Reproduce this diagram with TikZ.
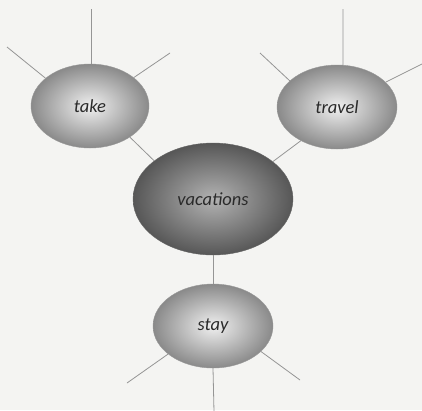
\documentclass[tikz,border=0pt]{standalone}
\usepackage{fontspec}
\setmainfont{Carlito}
\usetikzlibrary{shapes.geometric}
\definecolor{bgcol}{HTML}{F4F4F2}
\definecolor{linecol}{HTML}{959595}
\definecolor{textcol}{HTML}{2A2A2A}
\tikzset{
  bubble/.style={ellipse, inner sep=0pt, draw=black!40, line width=0.4pt,
    shading=radial, inner color=black!6, outer color=black!46,
    font=\fontsize{18.5}{20}\selectfont\itshape, text=textcol},
  bigbubble/.style={bubble, inner color=black!30, outer color=black!66, draw=black!60},
  spoke/.style={draw=linecol, line width=0.8pt}
}
\begin{document}
\begin{tikzpicture}[x=1pt,y=-1pt]
\fill[bgcol] (0,0) rectangle (422,410);
\useasboundingbox (0,0) rectangle (422,410);
% nodes
\node[bubble, minimum width=118pt, minimum height=84pt] (take) at (90,106) {take};
\node[bubble, minimum width=120pt, minimum height=84pt] (travel) at (337,107) {travel};
\node[bigbubble, minimum width=160pt, minimum height=112pt] (vac) at (213,199) {vacations};
\node[bubble, minimum width=120pt, minimum height=84pt] (stay) at (213,326) {stay};
% free ends
\coordinate (tk1) at (7,47);
\coordinate (tk2) at (91,9);
\coordinate (tk3) at (170,53);
\coordinate (tr1) at (260,53);
\coordinate (tr2) at (343,9);
\coordinate (tr3) at (424,63);
\coordinate (st1) at (127,383);
\coordinate (st2) at (214,412);
\coordinate (st3) at (300,380);
% connectors
\draw[spoke] (take.148) -- (tk1);
\draw[spoke] (take.north) ++(1,0) -- (tk2);
\draw[spoke] (take.33) -- (tk3);
\draw[spoke] (travel.151) -- (tr1);
\draw[spoke] (travel.82) -- (tr2);
\draw[spoke] (travel.27) -- (tr3);
\draw[spoke] (take.-38) -- (vac.147);
\draw[spoke] (travel.223) -- (vac.32);
\draw[spoke] (vac.south) -- (stay.north);
\draw[spoke] (stay.212) -- (st1);
\draw[spoke] (stay.south) -- (st2);
\draw[spoke] (stay.332) -- (st3);
\end{tikzpicture}
\end{document}
